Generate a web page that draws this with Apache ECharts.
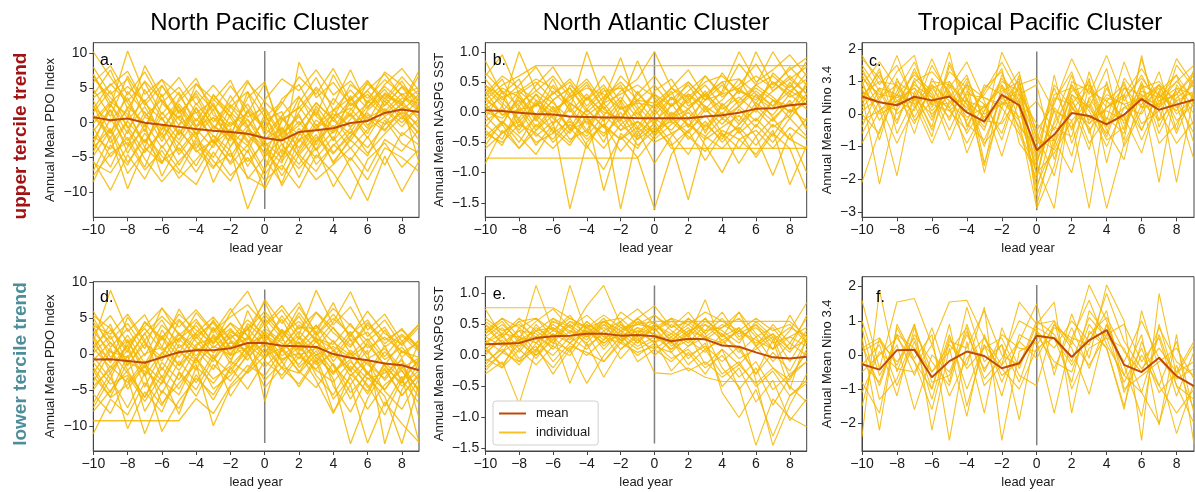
<!DOCTYPE html>
<html><head><meta charset="utf-8">
<script src="https://cdn.jsdelivr.net/npm/echarts@6/dist/echarts.min.js"></script>
<style>html,body{margin:0;padding:0;background:#fff}#c{width:1195px;height:492px}</style>
</head><body><div id="c"></div>
<script>
const years = [-10,-9,-8,-7,-6,-5,-4,-3,-2,-1,0,1,2,3,4,5,6,7,8,9];
const xTicks = [-10,-8,-6,-4,-2,0,2,4,6,8];
const titles = ['North Pacific Cluster','North Atlantic Cluster','Tropical Pacific Cluster'];
const yNames = ['Annual Mean PDO Index','Annual Mean NASPG SST','Annual Mean Nino 3.4'];
const rowLabels = ['upper tercile trend','lower tercile trend'];
const letters = ['a.','b.','c.','d.','e.','f.'];
const ticksPDO = [-10,-5,0,5,10];
const ticksSST = [-1.5,-1,-0.5,0,0.5,1];
const ticksNinoUp = [-3,-2,-1,0,1,2];
const ticksNinoLow = [-2,-1,0,1,2];

// mean curves
const meanA = [0.8,0.35,0.6,0,-0.3,-0.6,-0.9,-1.15,-1.35,-1.6,-2.2,-2.55,-1.35,-1.1,-0.8,-0.05,0.25,1.4,1.9,1.55];
const meanB = [0.03,0.02,-0.01,-0.03,-0.04,-0.07,-0.08,-0.09,-0.09,-0.1,-0.1,-0.1,-0.1,-0.07,-0.05,-0.01,0.055,0.065,0.115,0.14];
const meanC = [0.54,0.36,0.27,0.53,0.42,0.54,0.05,-0.23,0.59,0.27,-1.11,-0.63,0.03,-0.06,-0.32,-0.02,0.46,0.13,0.29,0.44];
const meanD = [-0.7,-0.65,-0.9,-1.15,-0.4,0.3,0.6,0.6,0.85,1.6,1.6,1.2,1.15,1.05,0.05,-0.45,-0.8,-1.25,-1.5,-2.2];
const meanE = [0.18,0.19,0.2,0.28,0.31,0.32,0.35,0.35,0.32,0.33,0.31,0.23,0.27,0.26,0.16,0.14,0.05,-0.03,-0.05,-0.02];
const meanF = [-0.27,-0.43,0.14,0.15,-0.65,-0.18,0.1,-0.03,-0.39,-0.24,0.56,0.49,-0.06,0.43,0.73,-0.29,-0.5,-0.08,-0.62,-0.91];

// vertical marker at lead year 0 (top, bottom)
const vlineA = [10.3,-12.4];
const vlineB = [1.0,-1.62];
const vlineC = [1.92,-2.95];
const vlineD = [9.0,-12.3];
const vlineE = [1.13,-1.42];
const vlineF = [2.05,-2.64];

// individual members
const indivA = [
[10.2,6.5,3.1,5.8,1.2,4.4,-0.5,2.9,-1.8,3.6,5.9,-2.1,1.5,4.8,0.2,3.3,6.1,2.4,5.2,3.0],
[7.0,2.2,10.3,4.1,6.2,1.5,3.8,-0.9,2.6,0.4,-3.5,-5.8,2.9,6.5,1.8,4.7,2.0,5.5,7.8,4.6],
[-8.5,-3.2,-6.1,-1.5,-4.8,-7.3,-2.6,-5.5,-8.4,-3.9,-9.6,-4.7,-1.2,-6.0,-3.3,-0.8,-4.4,-1.6,0.9,-2.5],
[3.2,-1.4,1.9,-3.6,2.8,0.5,-2.2,4.1,0.7,-2.9,0.3,1.6,-4.4,-0.7,-5.9,-2.1,1.8,3.9,2.5,6.8],
[-2.5,1.8,-4.4,-0.2,-7.7,-2.9,-6.2,-1.8,-4.0,-12.4,-6.5,-3.0,-7.9,-2.6,-0.4,-3.7,-1.0,0.8,-1.9,0.6],
[5.8,8.2,4.0,7.3,2.9,5.1,1.4,3.2,6.1,0.8,2.2,-1.7,0.9,-2.8,1.7,3.6,0.2,4.3,2.6,7.5],
[-5.5,-9.7,-4.6,-8.1,-3.3,-6.8,-8.9,-4.2,-7.6,-5.0,-8.3,-6.1,-9.4,-4.6,-7.2,-11.0,-5.3,-2.9,-6.4,-3.8],
[1.5,4.6,-0.8,2.3,-1.7,3.5,6.4,1.1,-0.6,2.7,-1.2,3.4,5.5,1.0,6.9,2.4,4.1,1.2,3.5,2.8],
[-0.7,-4.9,-2.1,-6.4,-0.3,-4.6,-1.3,-8.6,-3.4,-0.5,-5.2,-8.7,-2.3,-5.1,-2.0,-6.5,-11.2,-4.8,-9.9,-5.5],
[4.8,0.9,6.7,2.5,5.4,1.3,4.2,0.1,3.0,6.1,1.5,-4.5,8.7,3.6,5.8,2.5,4.6,1.6,4.2,1.9],
[-3.6,-0.8,-5.7,-2.4,-5.8,-1.2,-3.9,-6.6,-2.0,-4.3,1.2,-3.1,-6.0,-2.1,-4.5,-1.3,-3.6,-0.3,1.4,-1.5],
[0.4,3.0,1.2,-2.9,0.8,-4.1,-0.9,-3.6,1.2,-2.5,-6.9,0.6,-1.8,1.6,-2.6,0.5,2.8,5.2,3.1,0.4],
[2.6,-2.9,0.3,3.3,-2.2,1.0,-1.6,1.9,-3.5,1.6,-0.9,-2.5,0.2,-3.2,0.9,2.1,-0.8,3.1,0.5,3.6],
[-6.9,-2.0,-9.5,-3.6,-5.9,-0.9,-4.2,-2.6,-5.7,-1.1,-3.6,-7.6,-3.9,-0.2,-4.3,-1.9,0.6,-1.2,2.2,-0.8],
[6.4,3.6,0.7,8.2,3.7,6.5,2.6,5.4,2.3,4.5,0.8,3.0,-0.3,2.8,0.6,5.5,3.5,6.2,4.0,5.1],
[-1.2,1.9,-2.6,0.8,-0.4,-3.0,0.6,-1.9,-4.9,-1.0,-2.5,-0.8,-3.6,0.4,-1.5,1.2,-2.2,1.9,-0.6,2.3],
[2.0,5.6,2.9,-0.6,4.1,-1.8,2.2,-1.4,3.9,-0.4,-4.6,0.2,2.3,-1.0,3.5,0.9,5.9,3.4,6.6,3.9],
[-4.2,0.6,-3.3,1.6,-2.7,1.9,-3.7,-0.5,-1.9,-5.6,-2.8,-5.0,-0.8,-3.9,0.8,-2.6,1.1,-0.2,3.0,-5.8],
[8.0,4.1,6.3,0.9,3.3,-0.4,5.6,2.3,-0.3,1.4,5.6,-1.4,3.6,0.9,-1.2,1.8,4.7,7.0,3.8,1.6],
[-2.8,-6.4,-1.0,-5.2,-8.5,-5.5,-3.0,-6.3,-4.4,-7.8,-9.2,-0.6,-5.0,-8.2,-6.0,-3.6,-7.0,-2.4,-4.1,-1.0],
[1.1,-1.6,4.5,1.4,-1.0,2.7,-0.5,0.7,-2.2,4.4,-1.8,1.0,3.8,-0.5,1.9,-0.7,2.3,4.8,1.7,4.1],
[-0.1,2.7,-1.6,4.8,0.6,-2.5,2.1,-3.0,0.1,-1.8,-4.2,-6.8,-1.7,2.0,-2.6,3.9,-0.4,2.6,5.1,2.0],
[4.0,7.6,2.0,6.0,3.2,0.6,4.6,1.8,5.3,2.0,-0.6,2.7,6.6,4.1,7.8,3.1,5.6,3.0,6.0,2.2],
[-4.8,-1.0,-7.3,-4.0,-1.5,-6.1,-2.2,-5.0,-0.8,-6.3,-2.4,-9.1,-4.6,-7.0,-3.1,-5.4,-2.0,-6.1,-1.4,-3.2],
[2.2,0.1,3.6,-1.3,5.3,2.2,-0.8,2.6,-2.2,0.5,-2.6,0.8,-2.8,2.4,-0.9,2.9,0.7,2.0,0.0,2.4],
[-1.9,-3.8,0.2,-2.8,1.5,-1.7,2.8,-0.4,-2.6,1.8,-3.4,-1.5,1.2,-4.0,-1.2,1.4,-1.6,3.6,1.0,-1.6],
[6.9,2.9,5.2,3.0,6.2,4.0,0.2,3.9,1.5,-0.8,3.3,6.3,4.6,7.6,4.0,6.0,2.9,7.3,5.4,3.3],
[-7.6,-4.4,-2.8,-6.8,-4.0,-8.0,-5.3,-2.4,-6.0,-3.2,-7.5,-3.8,-6.6,-3.6,-9.2,-5.0,-8.2,-3.6,-5.0,-7.0],
[0.9,-2.2,2.3,0.0,-3.6,-0.3,1.5,-2.8,2.3,-0.5,1.9,-2.2,-0.4,2.9,0.3,-1.6,3.2,0.9,2.6,0.9],
[-3.1,2.6,-0.5,-4.3,-1.0,2.3,-1.8,0.8,-1.3,-3.3,0.6,-5.5,-2.5,-0.9,1.3,-0.5,1.4,-1.0,1.6,-0.3],
[3.6,5.4,7.4,2.8,0.4,3.1,5.6,3.4,0.9,5.8,3.0,0.5,2.1,5.1,2.6,7.6,2.3,4.1,2.9,4.7],
[-5.8,-7.2,-3.5,-0.9,-5.6,-3.6,-7.1,-3.1,-1.1,-8.1,-4.9,-2.2,-4.7,-1.7,-5.6,-2.5,-4.8,0.4,-3.0,-4.4]
];
const indivB = [
[0.2,0.45,0.6,0.77,0.77,0.77,0.77,0.77,0.77,0.77,0.77,0.77,0.77,0.77,0.77,0.77,0.77,0.77,0.77,0.77],
[-0.76,-0.76,-0.76,-0.76,-0.76,-0.76,-0.76,-0.76,-0.76,-0.76,-0.4,-0.1,-0.35,0.05,-0.2,0.1,-0.15,0.2,0.0,0.3],
[0.1,-0.2,0.3,-0.1,0.2,-0.3,0.05,-0.25,0.15,-0.4,-0.2,-0.6,-0.6,-0.6,-0.6,-0.6,-0.6,-0.6,-0.6,-0.6],
[0.85,0.3,0.55,-0.1,0.35,0.05,1.0,0.2,0.45,-0.05,0.3,0.1,0.5,0.2,0.65,0.3,1.0,0.45,0.7,0.9],
[-0.85,-0.3,-0.6,-0.2,-0.45,-0.1,-0.55,-0.95,-0.4,-0.75,-1.6,-0.7,-0.3,-0.8,-0.35,-0.6,-0.2,-0.5,-0.1,-0.4],
[0.4,0.1,1.0,0.35,0.6,0.25,0.5,0.05,0.35,0.55,1.0,0.4,0.15,0.6,0.3,0.8,0.45,1.0,0.55,0.75],
[-0.3,-0.55,0.05,-0.4,-0.15,-1.6,-0.5,-0.2,-0.65,-0.3,-0.85,-0.4,-0.1,-0.55,-1.0,-0.45,-0.7,-0.3,-1.2,-0.55],
[0.15,-0.2,0.25,-0.05,0.45,0.1,-0.3,0.2,0.9,0.1,-0.2,0.25,0.05,0.35,-0.05,0.4,0.15,0.5,0.25,0.4],
[-0.1,0.35,-0.25,0.2,-0.35,0.15,-0.05,-0.5,0.1,-0.3,0.05,-0.35,-0.7,-0.2,-0.45,0.05,-0.25,0.2,-0.1,0.25],
[0.55,0.2,0.45,0.75,0.3,0.5,0.1,0.4,-0.1,0.3,0.6,0.2,0.45,0.05,0.35,1.0,0.5,0.7,0.95,0.6],
[-0.55,-0.15,-0.4,-0.7,-0.25,-0.5,-0.05,-1.3,-0.35,-0.6,-0.15,-0.5,-1.45,-0.4,-0.6,-0.3,-0.75,-0.35,-0.6,-1.3],
[0.25,0.55,0.0,0.3,-0.2,0.45,0.2,0.6,0.15,0.85,0.2,-0.1,0.3,0.0,0.2,0.55,0.1,0.35,0.6,0.3],
[-0.2,-0.45,0.1,-0.3,0.05,-0.25,-0.6,-0.1,-1.6,-0.35,-0.1,-0.3,0.05,-0.25,0.1,-0.2,0.15,-0.05,0.3,0.05],
[0.05,0.25,-0.15,0.15,-0.05,0.3,-0.2,0.1,-0.3,0.05,-0.4,0.15,-0.25,0.3,-0.1,0.1,0.35,0.1,0.45,0.2],
[0.35,-0.05,0.2,-0.25,0.1,-0.3,0.25,-0.15,0.2,-0.25,0.15,-0.15,0.25,-0.35,0.15,-0.15,0.3,-0.1,0.15,-0.25],
[-0.4,-0.15,-0.5,-0.05,-0.3,-0.55,-0.1,-0.4,0.0,-0.45,0.0,0.35,-0.25,0.1,-0.35,-0.85,-0.4,-1.05,-0.35,-1.0],
[0.6,0.95,0.3,0.5,0.2,0.4,0.0,0.25,0.5,0.2,0.45,0.1,0.35,0.6,0.25,0.45,0.8,0.35,0.55,0.3],
[-0.05,-0.35,-0.1,-0.55,-0.2,0.05,-0.35,0.15,-0.2,0.0,-0.35,-0.05,-0.45,-0.15,-0.5,-0.2,0.05,-0.25,-0.05,0.5],
[0.2,0.0,0.35,0.1,0.55,0.0,0.3,-0.05,0.25,-0.1,0.35,0.55,0.1,0.3,0.05,0.25,0.0,0.65,0.4,0.85],
[-0.25,0.1,-0.35,-0.1,-0.5,-0.2,-0.4,-0.05,-0.3,-0.15,-0.45,-0.2,0.0,-0.3,0.0,-0.35,-0.1,-0.4,0.05,-0.15],
[0.45,0.15,-0.1,0.3,0.05,0.2,0.45,0.05,-0.15,0.35,-0.05,0.25,-0.1,0.2,0.45,0.15,0.4,0.2,0.1,0.45],
[0.65,0.35,0.1,0.45,0.75,0.3,0.55,0.15,0.6,0.3,0.05,0.4,0.7,0.25,0.5,0.1,0.45,0.6,0.35,0.55],
[-0.45,-0.2,-0.6,-0.3,-0.05,-0.45,-0.3,-0.6,-0.2,-0.45,-0.25,-0.55,-0.3,-0.05,-0.4,-0.25,-0.55,-0.2,-0.45,-0.1],
[0.1,0.4,0.25,-0.15,0.2,0.4,0.05,0.35,0.4,0.05,0.3,-0.05,0.2,0.45,0.1,0.35,0.25,0.05,0.5,0.1],
[-0.15,0.05,-0.3,0.15,-0.1,-0.35,0.05,-0.25,-0.45,-0.15,-0.35,0.0,-0.2,-0.4,-0.1,-0.3,0.1,-0.15,0.2,-0.3],
[0.3,0.6,0.4,0.2,0.0,0.25,0.4,0.3,0.05,0.2,0.15,0.4,0.25,0.5,0.6,0.35,0.2,0.5,0.3,0.65],
[-0.35,-0.5,-0.2,-0.35,-0.6,-0.3,-0.15,-0.35,-0.1,-0.55,-0.3,-0.15,-0.4,-0.65,-0.3,-0.45,-0.3,-0.6,-0.25,-0.45],
[0.0,-0.1,0.15,0.35,0.15,-0.1,0.25,0.0,-0.1,0.2,-0.15,0.1,0.3,0.1,-0.1,0.2,0.45,0.25,0.0,0.15],
[0.45,0.25,0.35,0.55,0.4,0.15,-0.05,0.15,0.3,0.45,0.25,-0.1,0.05,0.3,0.5,0.55,0.3,0.1,0.35,0.2],
[-0.6,-0.35,-0.15,-0.5,-0.35,-0.15,-0.45,-0.2,-0.45,-0.25,-0.5,-0.35,-0.2,-0.45,-0.25,-0.05,-0.4,-0.1,-0.45,-0.6],
[0.25,-0.05,0.05,0.1,0.3,0.55,0.2,0.45,0.05,0.15,0.1,0.3,0.5,0.2,0.3,0.4,0.6,0.4,0.75,0.45]
];
const indivC = [
[1.8,0.9,1.5,0.4,1.7,0.5,1.2,-0.3,1.9,0.8,-0.5,0.3,1.7,0.6,1.8,0.4,1.2,0.2,1.7,0.9],
[-2.1,-0.5,0.6,-0.3,0.9,-0.2,1.0,-1.5,0.2,1.1,-2.8,-0.7,0.5,-0.9,-0.1,-0.6,1.7,-0.2,0.4,-0.6],
[0.6,-2.15,0.2,1.4,0.3,1.9,-0.4,0.8,1.3,-0.2,-1.6,-2.9,0.6,0.2,1.4,-1.0,0.1,1.3,-0.5,1.4],
[1.2,0.2,-1.9,0.7,-0.5,0.8,1.6,0.4,-0.8,0.9,1.1,0.1,-1.3,0.9,-0.4,1.0,-0.5,0.7,-2.1,0.6],
[0.9,1.6,0.8,-0.6,1.1,0.2,-0.9,0.1,1.1,0.3,-2.3,-0.2,1.2,-0.6,0.8,-0.3,0.6,-2.1,0.9,0.2],
[-0.6,0.4,1.3,1.8,-0.1,0.9,0.3,-1.0,0.7,1.0,-0.8,0.8,-0.5,1.1,-1.5,0.6,1.4,0.5,1.2,-0.4],
[1.5,0.7,-0.3,1.1,0.6,-0.8,0.5,-1.6,0.9,-0.5,-1.8,-1.2,-0.2,-2.9,0.4,-0.1,-1.2,0.6,0.1,1.1],
[0.3,1.2,0.4,0.1,1.5,0.6,-0.6,0.3,-1.3,0.5,-1.3,0.9,0.2,-0.4,-2.9,-0.9,0.3,0.9,-0.2,0.3],
[1.0,-0.2,0.7,1.6,0.2,1.3,0.8,-1.8,0.4,-0.2,-2.9,-1.6,0.9,0.2,-0.6,1.1,0.4,-0.2,1.5,0.8],
[0.1,0.5,1.8,0.3,-0.9,0.4,-0.2,0.7,1.6,0.6,-0.3,-0.8,-1.8,0.5,0.9,-0.5,0.8,1.0,0.3,-1.4],
[1.7,1.1,0.3,0.9,0.5,-0.1,0.9,0.5,0.2,-0.6,-2.0,0.4,1.3,-0.3,0.2,0.6,-0.8,0.4,0.6,1.3],
[-0.4,0.8,-0.2,1.0,1.3,0.7,-1.2,0.1,1.0,0.7,-1.4,-0.4,-0.7,1.3,-0.2,1.6,0.2,0.8,-0.6,0.7],
[0.8,-0.8,1.0,0.6,-0.4,1.6,0.5,-0.9,-0.2,1.2,-0.6,-1.9,0.3,-1.1,1.0,-0.8,1.8,-0.4,0.8,0.0],
[1.3,0.5,0.9,-0.1,0.8,0.1,-0.5,0.9,0.6,-0.4,-1.0,0.6,0.8,0.1,-1.0,0.2,0.5,0.3,1.0,1.5],
[0.4,1.4,-0.6,0.5,0.0,0.6,0.2,-0.5,1.2,0.4,-2.5,-1.0,1.0,0.7,0.4,0.9,-0.3,0.1,-0.9,-0.2],
[-0.2,0.1,0.6,1.2,0.7,-0.5,0.7,0.3,-0.6,1.0,-1.9,0.2,-0.4,0.3,-0.8,-0.4,1.0,-0.6,0.5,0.9],
[0.7,0.3,-0.9,0.2,1.0,0.9,-0.3,-0.8,0.5,-0.1,0.4,-0.5,0.9,-0.2,0.6,0.3,-0.5,0.7,1.2,0.4],
[1.1,0.6,0.5,0.8,-0.2,1.0,0.1,0.6,1.4,-0.9,-1.6,1.2,-0.9,0.5,-0.3,-0.1,0.9,-0.9,-0.3,0.6],
[0.0,-0.6,1.1,-0.2,0.4,0.3,1.1,-0.2,-0.3,0.6,0.9,-1.4,0.4,-0.5,0.2,0.8,0.6,0.2,0.7,-0.9],
[0.5,1.3,0.0,0.5,-0.7,1.5,0.4,0.2,0.8,0.2,-2.2,-0.9,0.1,0.8,-0.5,-1.4,0.9,0.6,0.2,1.0],
[0.6,1.0,0.9,0.2,0.8,1.0,0.3,-0.4,0.6,1.3,-1.2,-0.3,0.7,0.9,0.2,0.5,1.1,0.4,0.8,0.6],
[-0.9,0.1,0.4,0.8,0.3,0.1,0.6,0.5,0.3,0.8,-0.7,-1.1,0.2,-0.3,0.5,0.3,0.5,0.9,0.0,0.5],
[1.4,0.4,0.1,1.0,0.1,0.7,-0.1,0.2,0.9,0.2,-1.5,0.1,-0.2,0.4,-0.7,0.8,0.2,0.3,0.6,1.2],
[0.2,0.8,0.6,0.3,0.9,0.4,0.4,-0.1,0.5,0.6,-0.9,-0.8,0.6,-0.1,0.1,-0.2,0.7,0.5,1.0,0.5],
[0.9,0.0,0.3,1.3,0.5,0.2,0.9,0.0,0.3,0.4,-1.9,0.5,0.3,1.0,-0.3,0.2,0.0,0.9,0.4,0.7]
];
const indivD = [
[6.0,2.1,4.3,0.8,6.5,2.6,4.9,1.4,5.8,8.8,3.9,6.2,2.7,8.9,4.1,6.6,2.5,4.8,1.2,3.8],
[-11.0,-6.2,-8.4,-3.9,-7.1,-2.6,-5.8,-1.4,-3.7,0.2,-3.6,-1.0,-4.5,-0.8,-8.0,-4.2,-12.3,-6.6,-9.6,-12.2],
[1.8,8.9,3.2,5.5,1.0,6.3,2.6,4.4,0.9,3.5,7.3,2.4,5.3,1.6,4.5,8.7,3.4,5.6,1.8,4.2],
[-3.8,0.5,-2.6,-5.9,-1.1,-3.5,0.8,-2.1,1.9,-0.8,3.1,-1.1,1.8,-2.9,-5.6,-1.6,-4.2,-8.4,-3.5,-6.8],
[-9.2,-9.2,-9.2,-9.2,-9.2,-9.2,-6.1,-8.2,-4.3,-1.5,-3.0,0.6,-2.3,-4.6,-1.2,-5.3,-2.7,-4.9,-1.8,-5.0],
[3.9,-0.4,2.1,-2.8,3.4,0.1,4.5,1.7,3.6,0.9,5.0,2.3,6.6,3.0,7.2,1.9,3.1,-0.3,2.6,0.4],
[-6.8,-2.5,-10.3,-5.2,-8.0,-2.4,-4.9,-0.5,-2.6,1.3,-0.6,2.4,-1.8,0.5,-3.4,-12.4,-6.1,-2.1,-5.7,-2.9],
[0.7,4.2,-1.6,2.0,-3.3,1.4,-0.9,3.6,-0.2,4.3,2.1,4.9,0.6,3.1,-1.0,2.2,-2.8,0.4,-2.3,-4.8],
[-1.8,-5.3,-0.1,-7.9,-3.8,0.6,-2.2,2.8,0.1,3.7,0.9,-1.9,2.4,-1.1,2.0,-2.1,0.6,-12.4,-4.9,-1.2],
[2.6,-1.2,5.2,1.6,-0.4,4.7,1.8,-0.6,3.4,1.2,4.4,0.4,3.2,0.8,3.8,0.2,-2.8,1.3,-3.9,-0.6],
[-4.9,-1.6,-3.9,-0.9,-6.8,-4.0,-1.4,-9.9,-4.6,-2.4,0.9,-3.4,-0.3,-2.0,0.6,-3.0,-0.6,-3.6,-0.5,-8.8],
[1.2,3.4,0.3,4.6,2.0,5.6,3.4,1.5,4.4,2.6,0.2,3.5,1.4,4.0,1.7,-0.1,2.2,-0.7,1.0,-1.6],
[-0.3,-3.4,1.9,-1.9,2.4,-1.6,1.0,-1.0,2.8,0.0,3.2,1.6,-0.6,2.5,-4.4,-8.0,-3.2,-5.8,-12.4,-4.1],
[4.5,1.6,-0.9,3.0,-2.2,2.2,-0.2,2.6,-1.3,6.1,1.6,5.4,2.1,5.8,3.0,1.0,4.1,1.5,3.6,0.6],
[-7.4,-3.3,-7.4,-2.6,-10.7,-6.4,-3.3,-5.6,-1.8,-4.8,-0.9,-2.9,0.3,-3.6,-8.2,-2.7,-5.1,-1.4,-4.4,-2.2],
[0.2,2.6,-2.2,0.1,1.0,-1.5,2.5,-0.6,1.7,0.3,2.9,-0.2,1.7,-0.4,-2.6,0.6,-1.4,-3.3,0.5,-1.6],
[2.3,-2.6,1.3,-4.5,0.2,3.0,-0.7,3.8,1.0,2.3,-0.4,3.2,0.4,2.2,0.8,-2.4,1.8,-1.6,-4.0,1.7],
[-2.6,0.9,-4.8,-1.6,-5.4,-0.9,-3.9,0.0,-5.8,-2.1,1.6,-1.9,-4.1,-0.4,-6.2,-3.2,-7.6,-4.2,-2.2,-6.0],
[5.1,1.0,3.6,-0.2,4.1,1.7,5.8,3.0,6.4,2.5,7.6,4.3,7.2,2.7,5.6,2.5,6.0,2.9,1.4,4.2],
[-1.1,-4.1,-2.9,-6.5,-2.9,-8.3,-1.7,-4.0,-0.9,-2.6,-0.2,0.9,-1.4,1.9,-1.6,-6.2,-2.3,-7.2,-3.0,-12.2],
[-5.5,-8.2,-3.2,-11.0,-5.0,-7.5,-2.8,-6.3,-2.0,0.4,-4.6,-1.8,-2.6,0.0,-2.8,0.3,-2.5,-4.9,-1.2,-5.3],
[3.2,0.4,-0.4,2.9,5.3,2.9,1.0,4.8,0.6,4.0,-6.5,0.9,4.1,2.2,1.4,4.3,0.9,2.4,0.4,-0.4],
[2.9,5.4,1.6,3.9,6.4,3.8,6.2,3.3,5.2,6.9,4.2,6.8,3.5,5.9,3.6,1.3,4.4,2.0,3.4,1.0],
[-2.2,-6.0,-4.2,-1.4,-3.6,-5.6,-0.6,-3.4,-1.6,1.0,-1.8,0.8,-2.5,1.2,-1.5,-4.2,-1.0,-5.1,-7.6,-3.3],
[0.9,-1.8,1.3,3.6,0.6,2.2,4.0,0.9,3.1,2.0,5.5,2.8,4.6,1.9,-0.4,2.7,0.0,3.4,-0.4,2.0],
[-4.4,-2.1,0.6,-3.0,0.3,-2.2,1.4,2.3,-0.7,2.5,0.1,3.4,-0.1,0.9,-2.4,-0.7,-4.6,-1.9,-5.7,-2.6],
[4.0,2.8,5.6,2.0,4.8,0.9,3.0,5.2,2.1,4.8,2.8,1.1,3.8,3.6,6.4,4.0,1.9,3.8,0.2,1.8],
[-7.9,-5.0,-2.2,-6.0,-1.8,-4.8,-0.4,-4.8,-2.9,-0.2,1.6,-0.8,1.0,-1.4,0.2,-2.2,-5.5,-1.1,-3.4,-0.8],
[-0.8,1.7,-1.4,1.4,-0.9,2.8,0.5,2.0,4.3,1.6,2.5,0.8,2.6,-0.1,1.1,-0.4,1.4,-1.5,1.9,-2.4],
[1.4,-0.8,2.7,-1.3,2.6,-0.4,2.9,0.2,2.4,3.4,6.0,3.1,0.9,4.1,0.4,3.2,-0.6,0.8,-1.9,-0.5],
[-3.0,-5.9,-1.0,-2.3,-4.1,0.4,-1.2,1.2,-0.1,0.9,2.0,-0.6,0.2,-2.2,-3.8,-1.0,-3.4,-2.6,-0.8,-3.6],
[5.4,3.6,0.7,4.4,2.4,4.9,2.2,4.6,2.0,0.5,3.6,1.9,5.8,2.6,5.0,2.8,4.8,1.0,2.8,0.9]
];
const indivE = [
[0.77,0.77,0.77,0.77,0.77,0.6,0.45,0.55,0.4,0.5,0.55,0.55,0.55,0.55,0.55,0.55,0.55,0.55,0.55,0.3],
[-0.3,-0.1,-0.78,0.1,0.35,-0.45,0.2,-0.35,0.1,0.3,-0.28,-0.3,-0.2,-0.35,-0.42,-0.42,-0.42,-0.42,-0.42,-0.42],
[0.35,0.55,0.2,1.13,0.4,0.65,0.3,0.55,0.25,0.6,0.8,0.45,0.7,0.35,0.6,0.25,0.5,0.1,0.4,0.85],
[0.05,0.25,-0.1,0.3,0.15,1.13,0.35,0.6,0.3,0.45,0.2,0.5,0.3,0.9,0.15,0.45,-0.4,-1.45,-0.8,-0.3],
[0.5,0.2,0.4,0.05,0.6,0.35,0.8,1.13,0.5,0.35,0.55,0.2,0.6,0.35,-0.2,-0.5,-1.45,-0.7,-1.0,-1.15],
[0.2,0.45,0.1,0.5,0.2,0.1,0.45,0.25,0.55,0.2,0.45,0.05,0.35,0.6,0.3,0.7,0.35,0.1,0.65,0.2],
[-0.1,0.1,-0.15,0.2,0.0,0.3,0.1,0.4,0.1,0.35,0.0,0.25,-0.15,0.1,-0.3,-0.1,-0.5,-0.25,-0.65,-0.45],
[0.75,0.3,0.55,0.25,0.45,0.2,0.55,0.3,0.7,0.5,0.65,0.4,0.2,0.5,0.35,0.05,0.3,-0.1,0.2,0.0],
[0.15,-0.2,0.3,0.0,0.25,0.5,0.15,0.35,-0.05,0.25,0.45,0.15,0.35,-0.15,0.1,-0.55,-0.2,-0.8,-0.35,0.05],
[0.4,0.6,0.3,0.55,0.75,0.45,0.65,0.4,0.55,0.75,0.5,0.3,0.5,0.25,0.45,0.7,0.15,0.5,0.2,0.6],
[-0.2,0.05,0.25,-0.05,0.3,0.05,0.5,0.15,0.4,-0.1,0.1,0.3,-0.05,0.2,-0.5,-0.2,-0.75,-0.4,-1.05,-0.7],
[0.3,0.15,0.4,0.35,0.1,0.4,0.2,0.5,0.35,0.6,0.3,0.1,0.4,0.5,0.25,0.4,0.2,0.35,0.1,0.25],
[0.0,0.35,-0.05,0.15,-0.3,0.1,-0.45,0.0,0.3,0.1,0.25,-0.25,0.05,-0.3,0.1,-0.15,0.15,-0.2,-0.4,0.1],
[0.6,0.4,0.5,0.3,0.5,0.3,0.4,0.2,0.45,0.3,0.5,0.35,0.6,0.4,0.7,0.3,0.45,0.2,0.3,0.15],
[0.1,0.3,0.05,0.4,0.45,0.25,0.55,0.3,0.2,0.45,0.35,0.1,0.25,0.05,0.35,0.1,-0.3,0.25,-0.55,0.3],
[-0.15,0.15,0.25,0.3,-0.1,0.2,0.0,0.25,0.5,0.25,0.1,-0.1,0.15,0.3,-0.6,-1.0,-0.55,-1.3,-0.65,-0.4],
[0.25,0.05,0.45,0.2,0.55,0.4,0.3,0.5,0.2,0.55,0.4,0.6,0.3,0.55,0.4,0.2,0.55,0.3,0.05,0.4],
[0.45,0.2,0.15,0.45,0.25,0.55,0.45,0.1,0.4,0.2,0.5,0.25,0.45,0.1,0.25,-0.05,0.1,0.3,-0.35,-0.1],
[-0.05,-0.2,0.1,-0.15,0.15,0.0,0.35,-0.1,0.2,0.05,0.15,0.05,-0.25,-0.1,-0.35,-0.15,-0.45,-0.2,-0.5,-0.75],
[0.3,0.5,0.25,0.4,0.2,0.5,0.3,0.45,0.25,0.4,0.2,0.35,0.15,0.4,0.45,0.6,0.3,0.45,0.1,0.65],
[0.55,0.35,0.6,0.4,0.6,0.45,0.25,0.55,0.4,0.6,0.4,0.55,0.35,0.6,0.3,0.45,0.15,0.35,-0.1,0.35],
[0.1,-0.15,0.2,0.0,0.35,0.2,0.4,0.2,0.35,0.15,0.3,0.2,0.0,0.15,-0.1,0.15,-0.3,0.05,-0.25,0.25],
[0.35,0.6,0.45,0.6,0.3,0.55,0.35,0.55,0.6,0.35,0.65,0.45,0.55,0.3,0.5,0.35,0.5,0.25,0.45,0.3],
[-0.25,0.05,-0.1,0.1,-0.2,0.15,0.05,-0.1,0.25,0.0,0.2,-0.05,0.1,-0.2,0.0,-0.35,-0.1,-0.55,-0.3,-0.1],
[0.2,0.35,0.3,0.2,0.4,0.3,0.5,0.35,0.25,0.4,0.35,0.2,0.4,0.3,0.2,0.4,0.25,0.1,0.3,0.45],
[0.5,0.3,0.55,0.6,0.4,0.6,0.45,0.65,0.45,0.5,0.45,0.6,0.5,0.7,0.55,0.4,0.6,0.4,0.5,0.2]
];
const indivF = [
[1.6,-0.4,1.55,1.65,0.3,1.55,1.6,0.5,-0.3,1.55,0.9,1.0,0.3,2.05,1.0,-0.6,-1.1,-2.0,-0.3,-1.6],
[-2.4,1.9,-0.5,0.9,-2.2,0.2,-1.8,0.6,-0.8,0.4,1.5,-0.6,1.2,-0.1,2.05,1.0,-2.5,1.8,-0.6,0.3],
[0.5,-2.2,0.9,-0.1,0.6,-2.5,0.4,-1.7,0.8,-0.4,0.9,1.55,-1.7,0.7,0.2,-1.6,1.3,-0.4,-2.3,-0.8],
[-0.3,0.3,-1.2,0.8,-0.5,0.3,-0.3,1.4,-2.5,0.1,0.4,-1.7,0.5,1.6,0.3,-0.6,0.6,-2.05,0.6,-2.6],
[0.3,-0.9,0.6,-0.6,0.8,-0.8,1.4,-0.2,0.3,-1.9,0.8,0.5,-0.8,1.3,0.6,0.9,-0.2,0.5,-1.2,0.1],
[-1.5,0.5,-0.9,0.4,-1.3,0.5,-0.4,0.2,0.5,-0.6,-0.9,0.9,0.2,-1.15,0.9,-0.3,-1.8,0.9,-0.9,-1.3],
[1.0,-0.6,0.3,-1.6,0.0,-0.5,0.7,-0.7,-0.1,1.0,0.7,0.2,1.0,0.4,1.3,-1.0,-0.6,-0.2,0.2,-0.7],
[-0.8,-1.7,0.8,-0.2,-1.0,0.6,-1.0,0.3,-1.2,0.6,0.3,1.0,-1.0,0.2,0.5,-0.8,0.2,-1.1,-0.5,0.4],
[0.2,0.5,-0.3,0.9,-0.8,-0.6,0.6,-0.4,0.3,-0.8,0.7,-0.4,0.8,-0.4,0.9,-1.1,0.0,-0.9,-1.7,-1.0],
[-0.5,0.0,0.5,-0.2,-1.6,0.4,0.2,1.3,0.0,-0.3,1.0,0.6,-0.2,1.1,0.5,0.2,-1.1,0.6,-0.9,-2.0],
[0.8,-1.3,-0.7,0.6,-0.2,-0.9,0.9,-0.5,0.6,0.2,0.1,0.8,0.5,0.3,1.8,0.4,-0.4,0.2,-0.5,-0.2],
[-1.1,0.1,-0.4,-0.5,0.3,-1.2,-0.1,0.5,-0.6,-0.2,0.6,-0.2,-0.5,0.9,0.2,-1.5,0.4,-0.9,0.4,-1.7],
[-0.2,-0.8,0.6,0.2,-0.5,0.1,0.8,-0.9,-0.3,0.4,-0.1,0.9,0.4,-0.3,0.6,-0.2,1.0,-0.1,-0.7,-0.4],
[0.1,0.4,-0.2,0.5,-1.0,0.9,-1.5,0.3,-0.4,-1.0,0.2,0.5,-0.3,0.6,1.1,0.1,-0.5,0.8,-0.2,-0.6]
];

const panels = [
  {indiv: indivA, mean: meanA, vline: vlineA, yTicks: ticksPDO, dec: 0, yName: yNames[0]},
  {indiv: indivB, mean: meanB, vline: vlineB, yTicks: ticksSST, dec: 1, yName: yNames[1]},
  {indiv: indivC, mean: meanC, vline: vlineC, yTicks: ticksNinoUp, dec: 0, yName: yNames[2]},
  {indiv: indivD, mean: meanD, vline: vlineD, yTicks: ticksPDO, dec: 0, yName: yNames[0]},
  {indiv: indivE, mean: meanE, vline: vlineE, yTicks: ticksSST, dec: 1, yName: yNames[1]},
  {indiv: indivF, mean: meanF, vline: vlineF, yTicks: ticksNinoLow, dec: 0, yName: yNames[2]}
];

// layout (pixels), axis extents and line widths
const layout = [
  {left:93.3, top:42.7, width:325.7, height:174.6, ymin:-13.6, ymax:11.5, gap:36.5, lx:100, ly:60.6, lw:1.3},
  {left:485.3, top:42.7, width:321.4, height:174.6, ymin:-1.74, ymax:1.15, gap:39.5, lx:492.7, ly:60.6, lw:1.3},
  {left:862, top:42.7, width:332, height:174.6, ymin:-3.17, ymax:2.19, gap:28.5, lx:869, ly:62, lw:1.1},
  {left:93.3, top:281.7, width:325.7, height:169.3, ymin:-13.4, ymax:10.1, gap:36.5, lx:100, ly:297.6, lw:1.3},
  {left:485.3, top:276.7, width:321.4, height:174.3, ymin:-1.54, ymax:1.27, gap:39.5, lx:492.7, ly:294.6, lw:1.15},
  {left:862, top:276.7, width:332, height:174.3, ymin:-2.81, ymax:2.29, gap:28.5, lx:876, ly:297.6, lw:1.1}
];

const FONT = '"Liberation Sans", Arial, Helvetica, sans-serif';
const indivColor = 'rgba(245,183,0,0.85)';
const meanColor = '#BE4A0A';
const frameColor = '#444';
const textColor = '#1a1a1a';
const fmt = dec => v => (v < 0 ? '\u2212' : '') + Math.abs(v).toFixed(dec);

const grid = layout.map(l => ({left:l.left, top:l.top, width:l.width, height:l.height, show:true, borderColor:frameColor, borderWidth:1, backgroundColor:'#fff'}));

const xAxis = panels.map((p, i) => ({
  type:'value', gridIndex:i, min:-10, max:9,
  name:'lead year', nameLocation:'middle', nameGap:25,
  nameTextStyle:{fontSize:13, color:textColor, fontFamily:FONT},
  axisLine:{show:true, onZero:false, lineStyle:{color:frameColor, width:1}},
  axisTick:{show:true, inside:false, length:4, customValues:xTicks, lineStyle:{color:frameColor}},
  axisLabel:{show:true, customValues:xTicks, fontSize:14, color:textColor, fontFamily:FONT, margin:6, formatter:fmt(0)},
  splitLine:{show:false}
}));

const yAxis = panels.map((p, i) => ({
  type:'value', gridIndex:i, min:layout[i].ymin, max:layout[i].ymax,
  name:p.yName, nameLocation:'middle', nameRotate:90, nameGap:layout[i].gap,
  nameTextStyle:{fontSize:13, color:textColor, fontFamily:FONT},
  axisLine:{show:true, onZero:false, lineStyle:{color:frameColor, width:1}},
  axisTick:{show:true, inside:false, length:4, customValues:p.yTicks, lineStyle:{color:frameColor}},
  axisLabel:{show:true, customValues:p.yTicks, fontSize:14, color:textColor, fontFamily:FONT, margin:6, formatter:fmt(p.dec)},
  splitLine:{show:false}
}));

const series = [];
panels.forEach((p, i) => {
  series.push({type:'line', name:'zero', xAxisIndex:i, yAxisIndex:i,
    data:[[0, p.vline[0]], [0, p.vline[1]]], symbol:'none', silent:true,
    lineStyle:{color:'#808080', width:1.5}, emphasis:{disabled:true}, z:1});
  p.indiv.forEach(vals => {
    series.push({type:'line', name:'individual', xAxisIndex:i, yAxisIndex:i,
      data: years.map((x, k) => [x, vals[k]]), symbol:'none', silent:true,
      lineStyle:{color:indivColor, width:layout[i].lw}, itemStyle:{color:indivColor},
      emphasis:{disabled:true}, z:2});
  });
  series.push({type:'line', name:'mean', xAxisIndex:i, yAxisIndex:i,
    data: years.map((x, k) => [x, p.mean[k]]), symbol:'none', silent:true,
    lineStyle:{color:meanColor, width:2}, itemStyle:{color:meanColor},
    emphasis:{disabled:true}, z:4});
});

const graphic = [];
const titleX = [259.5, 656, 1040];
titles.forEach((t, j) => graphic.push({type:'text', x:titleX[j], y:23.5,
  style:{text:t, font:'24px ' + FONT, fill:'#000', align:'center', verticalAlign:'middle'}}));
const rowY = [136, 364];
const rowColors = ['#A31212', '#4D8E9B'];
rowLabels.forEach((t, j) => graphic.push({type:'text', x:21, y:rowY[j], rotation:Math.PI/2,
  style:{text:t, font:'bold 19px ' + FONT, fill:rowColors[j], align:'center', verticalAlign:'middle'}}));
letters.forEach((t, i) => graphic.push({type:'text', x:layout[i].lx, y:layout[i].ly, z:10,
  style:{text:t, font:'16px ' + FONT, fill:'#000', align:'left', verticalAlign:'middle'}}));

const chart = echarts.init(document.getElementById('c'), null, {renderer:'canvas'});
chart.setOption({
  animation:false,
  backgroundColor:'#fff',
  grid, xAxis, yAxis, series, graphic,
  legend:{
    data:['mean','individual'], orient:'vertical', left:493, top:401, z:10,
    itemWidth:27, itemHeight:13, itemGap:6, padding:[6,8,6,5],
    borderColor:'#d0d0d0', borderWidth:1, borderRadius:3, backgroundColor:'#fff',
    selectedMode:false,
    itemStyle:{opacity:0},
    textStyle:{fontSize:13, color:textColor, fontFamily:FONT, padding:[0,0,0,5]}
  }
});
</script></body></html>
